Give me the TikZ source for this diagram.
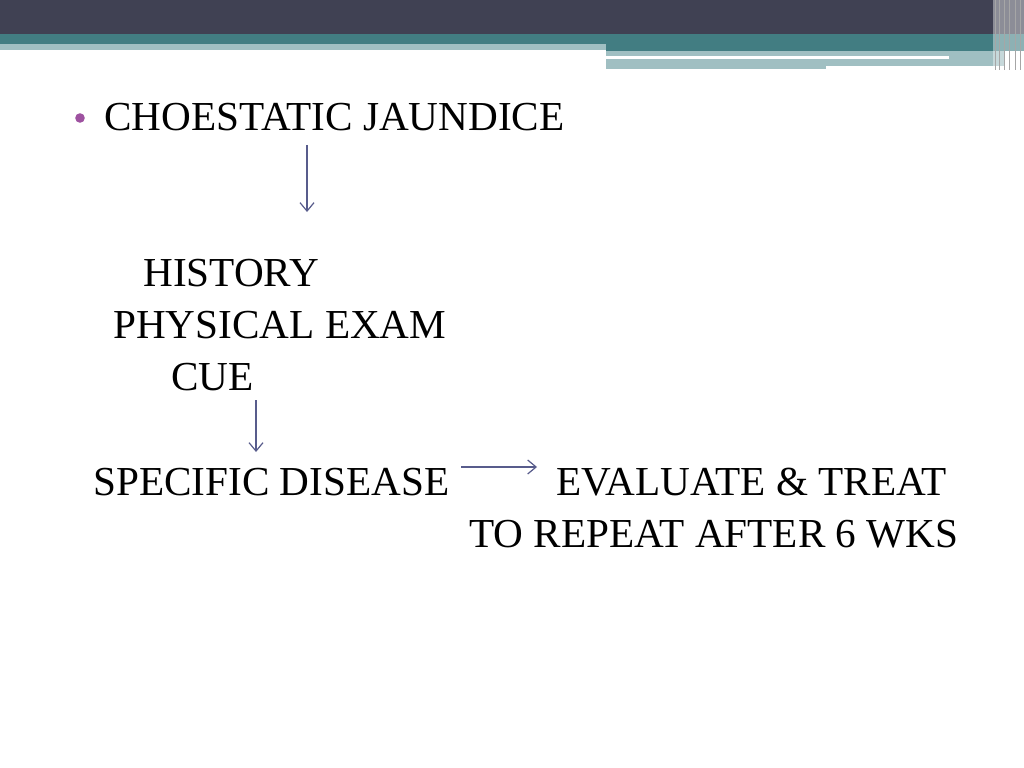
\documentclass[tikz,border=0pt]{standalone}
\usepackage{fontspec}
\setmainfont{Liberation Serif}
\usetikzlibrary{arrows.meta}
\definecolor{bardark}{RGB}{64,65,83}
\definecolor{barteal}{RGB}{66,125,130}
\definecolor{barlight}{RGB}{160,191,194}
\definecolor{arrowgrey}{RGB}{88,92,140}
\definecolor{bulletpurple}{RGB}{158,82,160}

\begin{document}
\begin{tikzpicture}[x=0.025cm,y=-0.025cm]
\tikzset{slidetext/.style = {anchor=base west,inner sep=0pt,
	font=\fontsize{29.3}{34}\selectfont}}
\tikzset{edge/.style = {draw=arrowgrey,line width=0.85pt,
	-{Straight Barb[length=6pt,width=10pt]}}}
\useasboundingbox (0,0) rectangle (1024,768);
% header
\fill[white] (0,0) rectangle (1024,768);
\fill[bardark] (0,0) rectangle (1024,34);
\fill[barteal] (0,34) rectangle (606,44);
\fill[barlight] (0,44) rectangle (606,50);
\fill[barteal] (606,34) rectangle (1024,51);
\fill[barlight] (606,51) rectangle (826,69);
\fill[barlight] (826,51) rectangle (1005,66);
\fill[white] (606,56) rectangle (949,59);
\fill[white,opacity=0.4] (993,0) rectangle (1024,70);
\foreach \x in {995,999,1004,1009,1015,1020}
	\draw[gray!70,line width=0.5pt] (\x,0) -- (\x,70);

% vertices
\node[circle,fill=bulletpurple,inner sep=0pt,minimum size=0.24cm] (bullet) at (80,118) {};
\node[slidetext] (title) at (104,131) {CHOESTATIC JAUNDICE};
\node[slidetext] (history) at (143,286) {HISTORY};
\node[slidetext] (exam) at (113,338) {PHYSICAL EXAM};
\node[slidetext] (cue) at (171,390) {CUE};
\node[slidetext] (disease) at (93,495) {SPECIFIC DISEASE};
\node[slidetext] (treat) at (556,495) {EVALUATE \& TREAT};
\node[slidetext] (repeat) at (469,547) {TO REPEAT AFTER 6 WKS};

\coordinate (top1) at (307,145);
\coordinate (end1) at (307,212);
\coordinate (top2) at (256,400);
\coordinate (end2) at (256,452);
\coordinate (left3) at (461,467);
\coordinate (right3) at (537,467);

%edges
\draw[edge] (top1) -- (end1);
\draw[edge] (top2) -- (end2);
\draw[edge] (left3) -- (right3);
\end{tikzpicture}
\end{document}
